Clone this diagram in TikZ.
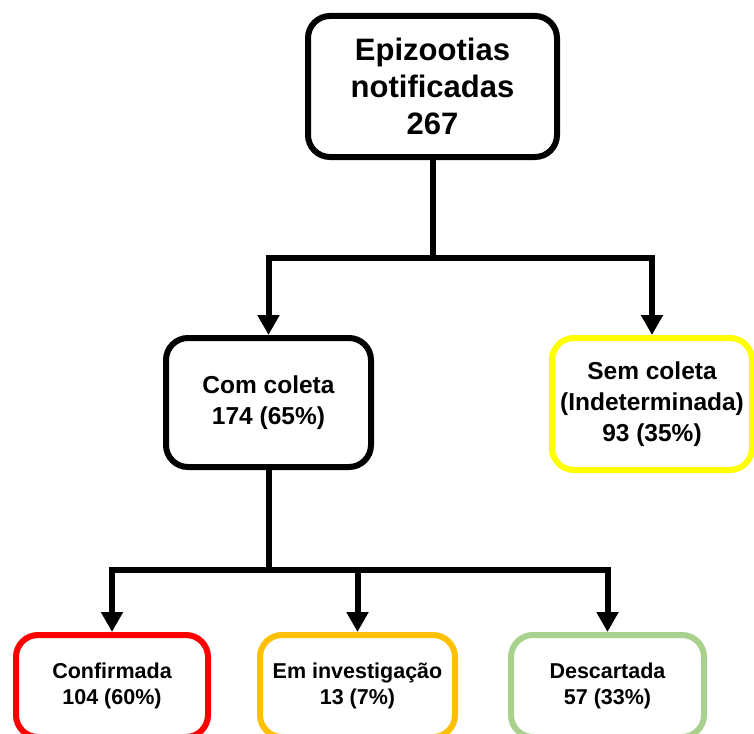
\documentclass[tikz,border=0pt]{standalone}
\usepackage{fontspec}
\setmainfont{Liberation Sans}
\usetikzlibrary{arrows.meta}

\definecolor{boxyellow}{HTML}{FFFF00}
\definecolor{boxred}{HTML}{FF0000}
\definecolor{boxorange}{HTML}{FFC000}
\definecolor{boxgreen}{HTML}{A9D18E}

\begin{document}
\begin{tikzpicture}[x=1pt, y=-1pt,
    box/.style={draw, line width=6pt, rounded corners=22pt, fill=white, align=center, inner sep=0pt},
    bigtext/.style={font=\bfseries\fontsize{31}{37}\selectfont},
    midtext/.style={font=\bfseries\fontsize{24.5}{31}\selectfont},
    smalltext/.style={font=\bfseries\fontsize{21.5}{26}\selectfont},
    arrow/.style={line width=6pt, -{Triangle[width=21pt, length=20pt]}},
    link/.style={line width=6pt}]
    \useasboundingbox (0,0) rectangle (754,733);

    \node[box, bigtext, minimum width=249pt, minimum height=141pt] (epi) at (432.5,86.5) {Epizootias\\notificadas\\267};

    \node[box, midtext, minimum width=205pt, minimum height=129pt] (com) at (268.5,402.5) {Com coleta\\174 (65\%)};
    \node[box, midtext, draw=boxyellow, minimum width=200pt, minimum height=132pt] (sem) at (652,404) {Sem coleta\\(Indeterminada)\\93 (35\%)};

    \node[box, smalltext, draw=boxred, minimum width=192pt, minimum height=102pt] (conf) at (112,686) {Confirmada\\104 (60\%)};
    \node[box, smalltext, draw=boxorange, minimum width=195pt, minimum height=102pt] (inv) at (357.5,686) {Em investigação\\13 (7\%)};
    \node[box, smalltext, draw=boxgreen, minimum width=193pt, minimum height=102pt] (desc) at (607.5,686) {Descartada\\57 (33\%)};

    \coordinate (split1) at (432.5,258);
    \coordinate (split2) at (268.5,570);

    \draw[link] (epi.south) -- (split1);
    \draw[arrow] (split1) -| (com.north);
    \draw[arrow] (split1) -| (sem.north);

    \draw[link] (com.south) -- (split2);
    \draw[arrow] (split2) -| (conf.north);
    \draw[arrow] (split2) -| (inv.north);
    \draw[arrow] (split2) -| (desc.north);
\end{tikzpicture}
\end{document}
